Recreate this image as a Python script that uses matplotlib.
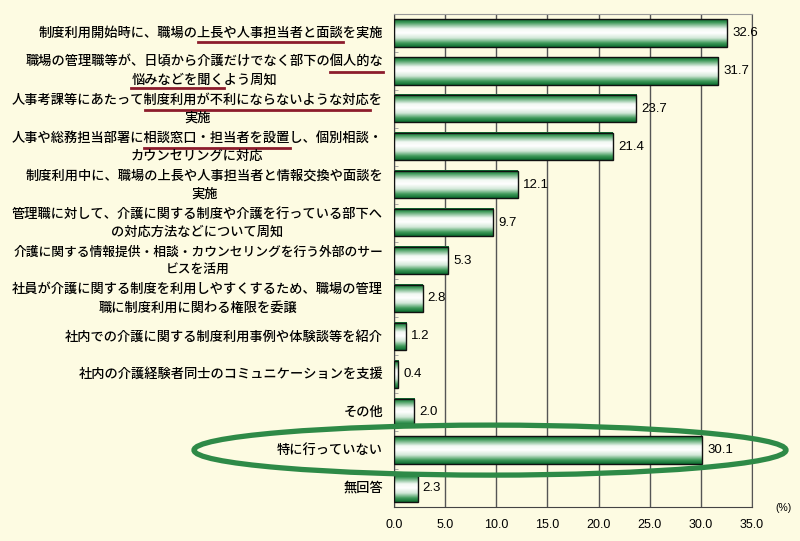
import numpy as np
import matplotlib
matplotlib.use("Agg")
import matplotlib.pyplot as plt
import matplotlib.transforms as mtransforms
from matplotlib.colors import LinearSegmentedColormap
from matplotlib.patches import Ellipse, Rectangle
from matplotlib.lines import Line2D

plt.rcParams['font.family'] = ['Noto Sans CJK JP', 'DejaVu Sans']

labels = [
    "制度利用開始時に、職場の上長や人事担当者と面談を実施",
    "職場の管理職等が、日頃から介護だけでなく部下の個人的な\n悩みなどを聞くよう周知",
    "人事考課等にあたって制度利用が不利にならないような対応を\n実施",
    "人事や総務担当部署に相談窓口・担当者を設置し、個別相談・\nカウンセリングに対応",
    "制度利用中に、職場の上長や人事担当者と情報交換や面談を\n実施",
    "管理職に対して、介護に関する制度や介護を行っている部下へ\nの対応方法などについて周知",
    "介護に関する情報提供・相談・カウンセリングを行う外部のサー\nビスを活用",
    "社員が介護に関する制度を利用しやすくするため、職場の管理\n職に制度利用に関わる権限を委譲",
    "社内での介護に関する制度利用事例や体験談等を紹介",
    "社内の介護経験者同士のコミュニケーションを支援",
    "その他",
    "特に行っていない",
    "無回答",
]
values = [32.6, 31.7, 23.7, 21.4, 12.1, 9.7, 5.3, 2.8, 1.2, 0.4, 2.0, 30.1, 2.3]

# underlined parts: (label index, line index, substring)
underlines = [
    (0, 0, "上長や人事担当者と面談"),
    (1, 0, "個人的な"),
    (1, 1, "悩みなどを聞く"),
    (2, 0, "制度利用が不利にならないような対応"),
    (3, 0, "相談窓口・担当者を設置"),
]
highlight = 11  # row circled in green

bg = '#fdfbe2'
green_cmap = LinearSegmentedColormap.from_list('bar', [
    (0.0, '#0b6a2e'), (0.12, '#3f9a5a'), (0.35, '#f2f8f3'), (0.5, '#ffffff'),
    (0.68, '#d2e8d8'), (0.86, '#3f9a5a'), (1.0, '#0b6a2e')])

fig = plt.figure(figsize=(8, 5.41), dpi=100, facecolor=bg)
ax = fig.add_axes([394 / 800, 1 - 507 / 541, (752 - 394) / 800, (507 - 14) / 541])
ax.set_facecolor(bg)

n = len(values)
h = 0.72
grad = np.linspace(0, 1, 128).reshape(-1, 1)
for i, v in enumerate(values):
    ax.imshow(grad, extent=[0, v, i - h / 2, i + h / 2], origin='lower',
              aspect='auto', cmap=green_cmap, zorder=2)
    ax.add_patch(Rectangle((0, i - h / 2), v, h, fill=False, edgecolor='#111111',
                           linewidth=1.0, zorder=3))
    ax.text(v + 0.5, i, f"{v:.1f}", va='center', ha='left', fontsize=9.5,
            family='Liberation Sans', zorder=4)

ax.set_xlim(0, 35)
ax.set_ylim(n - 0.5, -0.5)
ax.set_xticks(np.arange(0, 35.1, 5))
ax.set_xticklabels([f"{t:.1f}" for t in np.arange(0, 35.1, 5)],
                   family='Liberation Sans', fontsize=9)
ax.tick_params(axis='x', length=0, pad=9)
ax.set_yticks([])
ax.set_yticks(np.arange(n) + 0.5, minor=True)
ax.tick_params(axis='y', which='minor', direction='in', length=3, color='#999999')
ax.grid(axis='x', color='#555555', linewidth=1.0, zorder=1)
ax.set_axisbelow(True)
for side in ['left', 'bottom']:
    ax.spines[side].set_color('#444444')
ax.spines['top'].set_color('#999999')
ax.spines['right'].set_color('#555555')

fig.text(783 / 800, 1 - 508 / 541, "(%)", fontsize=7.5, ha='center', va='center',
         family='Liberation Sans')

# category labels
trans = mtransforms.blended_transform_factory(fig.transFigure, ax.transData)
label_texts = []
for i, lab in enumerate(labels):
    t = fig.text(383 / 800, i, lab, transform=trans, ha='right', va='center',
                 multialignment='center', fontsize=9.5, fontweight='medium',
                 linespacing=1.4)
    label_texts.append(t)

fig.canvas.draw()
renderer = fig.canvas.get_renderer()
# shrink any label that would run off the left edge
for t in label_texts:
    bb = t.get_window_extent(renderer)
    if bb.x0 < 10:
        t.set_fontsize(9.5 * (383 - 10) / bb.width)
fig.canvas.draw()

W, H = fig.bbox.width, fig.bbox.height
for idx, li, sub in underlines:
    t = label_texts[idx]
    bb = t.get_window_extent(renderer)
    lines = labels[idx].split("\n")
    lh = bb.height / len(lines)
    prop = t.get_fontproperties()
    line = lines[li]
    wl = renderer.get_text_width_height_descent(line, prop, ismath=False)[0]
    x0 = (bb.x0 + bb.x1) / 2 - wl / 2
    pre = line[:line.index(sub)]
    wp = renderer.get_text_width_height_descent(pre, prop, ismath=False)[0] if pre else 0
    ws = renderer.get_text_width_height_descent(sub, prop, ismath=False)[0]
    yl = bb.y1 - (li + 0.5) * lh - 9
    fig.add_artist(Line2D([(x0 + wp) / W, (x0 + wp + ws) / W], [yl / H, yl / H],
                          transform=fig.transFigure, color='#8c1c2c', linewidth=2))

# green ellipse around the highlighted row
yc = ax.transData.transform((0, highlight))[1]
fig.add_artist(Ellipse((490 / W, yc / H), 592 / W, 50 / H, transform=fig.transFigure,
                       fill=False, edgecolor='#2e8a47', linewidth=3.8, zorder=10))

fig.savefig('out.png', dpi=100, facecolor=bg)
